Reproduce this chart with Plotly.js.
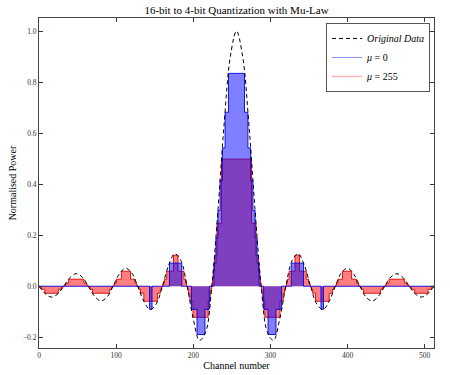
<!DOCTYPE html>
<html>
<head>
<meta charset="utf-8">
<script src="https://cdn.plot.ly/plotly-3.0.1.min.js"></script>
<style>html,body{margin:0;padding:0;background:#fff;}#chart{width:450px;height:375px;}</style>
</head>
<body>
<div id="chart"></div>
<script>
// Original data (dashed), sampled every 8 channels
const channels = [0,8,16,24,32,40,48,56,64,72,80,88,96,104,112,120,128,136,144,152,160,168,176,184,192,200,208,216,224,232,240,248,256,264,272,280,288,296,304,312,320,328,336,344,352,360,368,376,384,392,400,408,416,424,432,440,448,456,464,472,480,488,496,504,512];
const originalData = [0,-0.0290,-0.0424,-0.0310,0,0.0333,0.0490,0.0360,0,-0.0391,-0.0579,-0.0429,0,0.0474,0.0707,0.0530,0,-0.0600,-0.0909,-0.0693,0,0.0818,0.1273,0.1000,0,-0.1286,-0.2122,-0.1801,0,0.3001,0.6366,0.9003,1.0,0.9003,0.6366,0.3001,0,-0.1801,-0.2122,-0.1286,0,0.1000,0.1273,0.0818,0,-0.0693,-0.0909,-0.0600,0,0.0530,0.0707,0.0474,0,-0.0429,-0.0579,-0.0391,0,0.0360,0.0490,0.0333,0,-0.0310,-0.0424,-0.0290,0];

// mu = 0 quantized steps (channel where each level starts, level)
const mu0Edges = [0,143.3,146.5,169.1,185.0,197.6,204.8,215.1,220.8,226.7,229.3,231.9,234.7,237.7,241.2,245.6,266.4,270.8,274.3,277.3,280.1,282.7,285.3,291.2,296.9,307.2,314.4,327.0,342.9,365.5,368.7,512];
const mu0Levels = [0,-0.0905,0,0.0905,0,-0.0905,-0.1892,-0.0905,0,0.0905,0.1892,0.2968,0.4142,0.5422,0.6818,0.834,0.6818,0.5422,0.4142,0.2968,0.1892,0.0905,0,-0.0905,-0.1892,-0.0905,0,0.0905,0,-0.0905,0,0];

// mu = 255 quantized steps
const mu255Edges = [0,1.0,3.0,7.6,25.1,29.3,31.1,
  32.9,34.7,38.4,58.2,61.7,63.2,
  64.7,66.3,69.4,91.2,94.0,95.4,
  96.6,97.9,100.4,106.8,118.6,124.3,126.4,127.5,
  128.5,129.5,131.5,135.9,153.5,157.2,158.8,159.6,
  160.4,161.1,162.6,165.6,174.3,180.2,187.8,190.1,191.2,191.7,
  192.3,192.7,193.7,195.6,199.6,219.3,221.9,223.0,223.6,223.9,
  224.1,224.4,224.9,225.8,227.5,230.7,236.6,275.4,281.3,284.5,286.2,287.1,287.6,287.9,
  288.1,288.4,289.0,290.1,292.7,312.4,316.4,318.3,319.3,319.7,
  320.3,320.8,321.9,324.2,331.8,337.7,346.4,349.4,350.9,351.6,
  352.4,353.2,354.8,358.5,376.1,380.5,382.5,383.5,
  384.5,385.6,387.7,393.4,405.2,411.6,414.1,415.4,
  416.6,418.0,420.8,442.6,445.7,447.3,
  448.8,450.3,453.8,473.6,477.3,479.1,
  480.9,482.7,486.9,504.4,509.0,511.0,512];
const mu255Levels = [0,-0.0039,-0.0118,-0.0275,-0.0118,-0.0039,0,
  0.0039,0.0118,0.0275,0.0118,0.0039,0,
  -0.0039,-0.0118,-0.0275,-0.0118,-0.0039,0,
  0.0039,0.0118,0.0275,0.0588,0.0275,0.0118,0.0039,0,
  -0.0039,-0.0118,-0.0275,-0.0588,-0.0275,-0.0118,-0.0039,0,
  0.0039,0.0118,0.0275,0.0588,0.1216,0.0588,0.0275,0.0118,0.0039,0,
  -0.0039,-0.0118,-0.0275,-0.0588,-0.1216,-0.0588,-0.0275,-0.0118,-0.0039,0,
  0.0039,0.0118,0.0275,0.0588,0.1216,0.247,0.498,0.247,0.1216,0.0588,0.0275,0.0118,0.0039,0,
  -0.0039,-0.0118,-0.0275,-0.0588,-0.1216,-0.0588,-0.0275,-0.0118,-0.0039,0,
  0.0039,0.0118,0.0275,0.0588,0.1216,0.0588,0.0275,0.0118,0.0039,0,
  -0.0039,-0.0118,-0.0275,-0.0588,-0.0275,-0.0118,-0.0039,0,
  0.0039,0.0118,0.0275,0.0588,0.0275,0.0118,0.0039,0,
  -0.0039,-0.0118,-0.0275,-0.0118,-0.0039,0,
  0.0039,0.0118,0.0275,0.0118,0.0039,0,
  -0.0039,-0.0118,-0.0275,-0.0118,-0.0039,0,0];

const xTicks = [0,100,200,300,400,500];
const yTicks = [-0.2,0.0,0.2,0.4,0.6,0.8,1.0];

const serif = '"Liberation Serif", "DejaVu Serif", serif';

const traces = [
  {x: mu255Edges, y: mu255Levels, type: 'scatter', mode: 'lines', line: {shape: 'hv', color: 'rgba(220,0,0,0.9)', width: 1},
   fill: 'tozeroy', fillcolor: 'rgba(255,0,0,0.5)', showlegend: false, hoverinfo: 'skip'},
  {x: mu0Edges, y: mu0Levels, type: 'scatter', mode: 'lines', line: {shape: 'hv', color: 'rgba(0,0,230,0.9)', width: 1},
   fill: 'tozeroy', fillcolor: 'rgba(0,0,255,0.5)', showlegend: false, hoverinfo: 'skip'},
  {x: channels, y: originalData, type: 'scatter', mode: 'lines', line: {shape: 'spline', smoothing: 1, color: 'black', width: 1, dash: '4px,3px'},
   showlegend: false, hoverinfo: 'skip'},
  // legend entries
  {x: [null], y: [null], type: 'scatter', mode: 'lines', name: '<i>Original Data</i>', line: {color: 'black', width: 1, dash: '4px,3px'}},
  {x: [null], y: [null], type: 'scatter', mode: 'lines', name: '<i>μ</i> = 0', line: {color: 'rgba(0,0,255,0.45)', width: 1}},
  {x: [null], y: [null], type: 'scatter', mode: 'lines', name: '<i>μ</i> = 255', line: {color: 'rgba(255,0,0,0.3)', width: 1.5}}
];

const layout = {
  width: 450, height: 375,
  margin: {l: 39, r: 16, t: 18, b: 27},
  paper_bgcolor: 'white', plot_bgcolor: 'white',
  font: {family: serif, color: 'black', size: 10},
  title: {text: '16-bit to 4-bit Quantization with Mu-Law', font: {family: serif, size: 11, color: 'black'},
          x: 0.5, xref: 'paper', xanchor: 'center', y: 0.973, yref: 'container', yanchor: 'middle'},
  xaxis: {range: [0, 512], tickvals: xTicks, ticktext: xTicks.map(String), ticks: 'inside', ticklen: 4, tickcolor: '#333',
          showline: true, linecolor: '#444', linewidth: 1, mirror: 'ticks', showgrid: false, zeroline: false,
          tickfont: {family: serif, size: 7.5, color: '#333'},
          title: {text: 'Channel number', font: {family: serif, size: 10, color: 'black'}, standoff: 2}},
  yaxis: {range: [-0.242, 1.051], tickvals: yTicks, ticktext: ['−0.2','0.0','0.2','0.4','0.6','0.8','1.0'], ticks: 'inside', ticklen: 4, tickcolor: '#333',
          showline: true, linecolor: '#444', linewidth: 1, mirror: 'ticks', showgrid: false, zeroline: false,
          tickfont: {family: serif, size: 7.5, color: '#333'},
          title: {text: 'Normalised Power', font: {family: serif, size: 10, color: 'black'}, standoff: 4}},
  legend: {x: 0.99, y: 0.985, xanchor: 'right', yanchor: 'top', bgcolor: 'white', bordercolor: '#555', borderwidth: 1,
           font: {family: serif, size: 10, color: 'black'}, itemwidth: 30, traceorder: 'normal'},
  showlegend: true
};

Plotly.newPlot('chart', traces, layout, {displayModeBar: false, staticPlot: true});
</script>
</body>
</html>
